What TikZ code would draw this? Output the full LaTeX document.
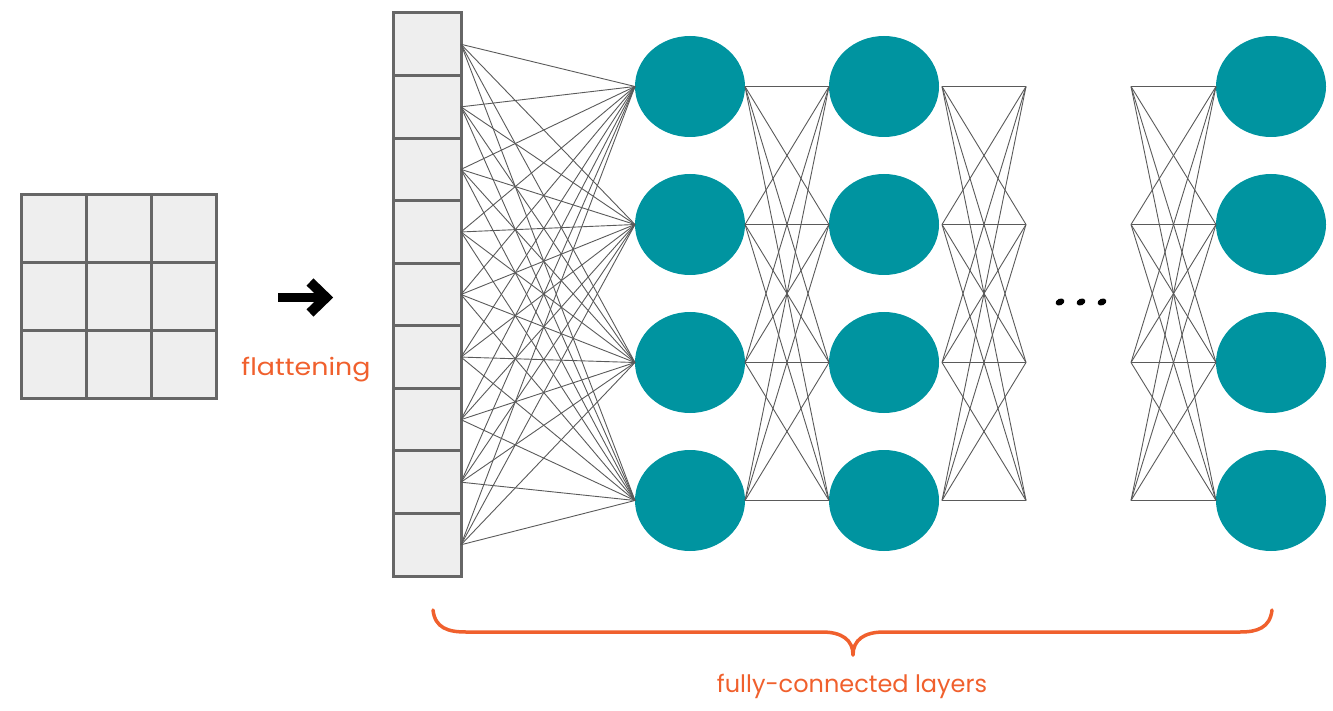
\documentclass[tikz,border=0pt]{standalone}
\usepackage{fontspec}
\setmainfont{Poppins}
\usetikzlibrary{shapes.geometric}
\definecolor{tealn}{RGB}{0,148,160}
\definecolor{orng}{RGB}{240,96,45}
\definecolor{cellfill}{RGB}{238,238,238}
\definecolor{cellline}{RGB}{102,102,102}
\definecolor{wirec}{RGB}{90,90,90}
\begin{document}
\begin{tikzpicture}[x=1pt,y=-1pt,
 cellbox/.style={draw=cellline, fill=cellfill, line width=3pt, minimum width=68pt, minimum height=62.56pt, inner sep=0pt, outer sep=0pt},
 gridcell/.style={draw=cellline, fill=cellfill, line width=3pt, minimum width=65.33pt, minimum height=67.67pt, inner sep=0pt, outer sep=0pt},
 neuron/.style={ellipse, fill=tealn, minimum width=110pt, minimum height=101pt, inner sep=0pt, outer sep=0pt},
 wire/.style={draw=wirec, line width=0.9pt},
 brace/.style={draw=orng, line width=3.5pt, line cap=round},
 lbl/.style={text=orng, font=\fontsize{24}{26}\selectfont, inner sep=0pt}]
\useasboundingbox (0,0) rectangle (1333,711);
% left 3x3 grid
\foreach \i/\x in {1/53.67,2/119,3/184.33}
  \foreach \j/\y in {1/228.83,2/296.5,3/364.17}
    \node[gridcell] (g\i\j) at (\x,\y) {};
% arrow
\coordinate (arrs) at (278,297.5);
\coordinate (arre) at (322,297.5);
\draw[line width=9pt] (arrs) -- (arre);
\draw[line width=10pt, line join=miter] (310,282) -- (326,297.5) -- (310,313);
\node[lbl, anchor=base] (flat) at (306,375) {\scalebox{1.12}[1]{flattening}};
% flattened column
\foreach \k in {0,...,8}
  \node[cellbox] (c\k) at (427,{44.28+62.56*\k}) {};
% neuron layers
\foreach \n/\y in {1/86.5,2/224.5,3/362.5,4/500.5}{
  \node[neuron] (a\n) at (690,\y) {};
  \node[neuron] (b\n) at (884,\y) {};
  \node[neuron] (z\n) at (1271,\y) {};
  \coordinate (e\n) at (1026,\y);
  \coordinate (f\n) at (1131,\y);
  \coordinate (bo\n) at (942,\y);
}
% wires column -> layer 1
\foreach \k in {0,...,8}
  \foreach \n in {1,...,4}
    \draw[wire] (c\k.east) -- (a\n.west);
% layer 1 -> layer 2, layer 2 -> free ends, free starts -> last layer
\foreach \m in {1,...,4}
  \foreach \n in {1,...,4}{
    \draw[wire] (a\m.east) -- (b\n.west);
    \draw[wire] (bo\m) -- (e\n);
    \draw[wire] (f\m) -- (z\n.west);
  }
% dots
\foreach \x in {1060,1081,1102}
  \fill[rotate around={25:(\x,302)}] (\x,302) ellipse [x radius=4.6, y radius=3.3];
% brace
\coordinate (bl) at (433,610);
\coordinate (br) at (1272,610);
\coordinate (bt) at (853,655);
\draw[brace] (bl) .. controls (435,628) and (448,632) .. (466,632) -- (822,632) .. controls (842,632) and (853,640) .. (bt);
\draw[brace] (br) .. controls (1270,628) and (1257,632) .. (1240,632) -- (884,632) .. controls (864,632) and (853,640) .. (bt);
\node[lbl, anchor=base] (fcl) at (852,692) {fully-connected layers};
\end{tikzpicture}
\end{document}
